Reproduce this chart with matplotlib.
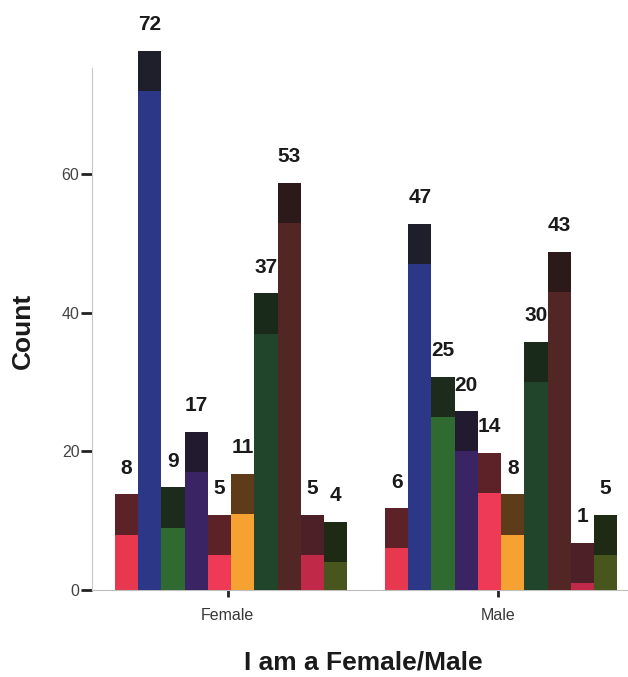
import matplotlib
matplotlib.use("Agg")
import matplotlib.pyplot as plt
import numpy as np

plt.rcParams['font.family'] = ['Liberation Sans', 'DejaVu Sans']

groups = ["Female", "Male"]
female_counts = [8, 72, 9, 17, 5, 11, 37, 53, 5, 4]
male_counts = [6, 47, 25, 20, 14, 8, 30, 43, 1, 5]
counts = [female_counts, male_counts]

front_colors = ["#e8384f", "#2d3788", "#2f6a30", "#3a2464", "#ee3a56",
                "#f6a232", "#21452a", "#532626", "#c02a48", "#48561e"]
top_colors = ["#5c2228", "#1f1f2c", "#1c2b1c", "#221a2e", "#5c2228",
              "#5e3c1a", "#1a2a1a", "#2c1a1a", "#4c2026", "#1e2a14"]

top_depth = 5.8        # height of the shaded top face, in count units
bar_w = 0.086
n = len(front_colors)

fig = plt.figure(figsize=(6.28, 6.77), dpi=100)
ax = fig.add_axes([92 / 628, 87 / 677, 536 / 628, 580 / 677])
ax.set_xlim(-0.515, 1.47)
ax.set_ylim(0, 83.7)

for g, vals in enumerate(counts):
    for i, v in enumerate(vals):
        x = g + (i - (n - 1) / 2) * bar_w
        z = 2 + i
        ax.bar(x, v, width=bar_w, color=front_colors[i], edgecolor="none",
               zorder=z)
        ax.bar(x, top_depth, bottom=v, width=bar_w, color=top_colors[i],
               edgecolor="none", zorder=z)
        ax.annotate(str(v), (x, v + top_depth), xytext=(0, 12),
                    textcoords="offset points", ha="center", va="bottom",
                    fontsize=15, fontweight="bold", color="#1a1a1a",
                    zorder=z + 0.5)

for side in ("top", "right"):
    ax.spines[side].set_visible(False)
ax.spines["left"].set_bounds(0, 75.3)
ax.spines["left"].set_color("#c8c8c8")
ax.spines["left"].set_linewidth(0.8)
ax.spines["bottom"].set_color("#bdbdbd")
ax.spines["bottom"].set_linewidth(0.8)

ax.set_yticks([0, 20, 40, 60])
ax.tick_params(axis="y", length=8, width=2.0, color="#222222", pad=1,
               labelsize=11.5, labelcolor="#444444")
ax.set_xticks([-0.012, 0.99])
ax.set_xticklabels(groups)
ax.tick_params(axis="x", length=5, width=2.0, color="#222222", pad=8,
               labelsize=11.5, labelcolor="#383838")

fig.text(23 / 628, 1 - 331 / 677, "Count", rotation=90, ha="center",
         va="center", fontsize=19, fontweight="bold", color="#1a1a1a")
fig.text(363 / 628, 1 - 663 / 677, "I am a Female/Male", ha="center",
         va="center", fontsize=19, fontweight="bold", color="#1a1a1a")

fig.savefig("out.png", dpi=100)
